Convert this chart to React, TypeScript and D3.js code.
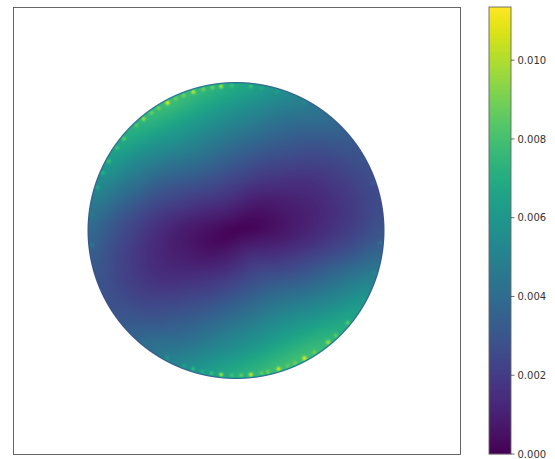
import React, { useMemo } from "react";
import * as d3 from "d3";

// Colour-bar ticks
const tickValues = [0, 0.002, 0.004, 0.006, 0.008, 0.01];
const vmax = 0.01135;

// Field: node values on polar mesh rings.
const ringRadii = [0, 0.2, 0.4, 0.6, 0.8, 0.97];
const sectorAngles = [0, 30, 60, 90, 120, 150, 180, 210, 240, 270, 300, 330];
const ring0 = [0.0001, 0.0001, 0.0001, 0.0001, 0.0001, 0.0001, 0.0001, 0.0001, 0.0001, 0.0001, 0.0001, 0.0001];
const ring1 = [0.0004, 0.0004, 0.0008, 0.0013, 0.0014, 0.001, 0.0005, 0.0004, 0.0008, 0.0013, 0.0015, 0.001];
const ring2 = [0.0009, 0.001, 0.0018, 0.0027, 0.0029, 0.0021, 0.001, 0.001, 0.0018, 0.0027, 0.003, 0.002];
const ring3 = [0.0015, 0.0015, 0.0028, 0.0041, 0.0046, 0.0033, 0.0018, 0.0015, 0.0028, 0.0042, 0.0047, 0.0033];
const ring4 = [0.0022, 0.0022, 0.0037, 0.0056, 0.0063, 0.0049, 0.0028, 0.0022, 0.0037, 0.0057, 0.0064, 0.0048];
const ring5 = [0.0029, 0.0028, 0.0046, 0.0068, 0.0077, 0.0062, 0.0038, 0.0028, 0.0046, 0.007, 0.0078, 0.006];
const rings = [ring0, ring1, ring2, ring3, ring4, ring5];

// Bright boundary nodes: angle in degrees (counter-clockwise from +x), value.
const hotAngles = [162.7, 156.6, 151.5, 145.2, 140.7, 133.5, 129.6, 125.6, 122.3, 118.2, 114.6, 111.2, 107.1, 103, 99.4, 95.9, 91.6,
  84.1, 79.8, 73.5, 62.1, 51.3, 29.7, 19.2, -4.9, -17, -28.2, -39.6, -46.5, -50.5, -57.2, -61.8, -66, -69.1, -72.9, -77.3, -79.8,
  -84.1, -88, -91.6, -95.9, -99.8, -103.4, -107.2, -111, -118.4, -129.1, -141.2, -151.5, -174.4, 173.9];
const hotValues = [0.0068, 0.0072, 0.0078, 0.0078, 0.0085, 0.0082, 0.0095, 0.0088, 0.0088, 0.0108, 0.0088, 0.0088, 0.0102, 0.0088, 0.0088, 0.0098, 0.0078,
  0.0078, 0.0068, 0.0065, 0.0052, 0.004, 0.0032, 0.0034, 0.0042, 0.0052, 0.0062, 0.0085, 0.0085, 0.0098, 0.0088, 0.0108, 0.0088, 0.0085, 0.0105, 0.0088, 0.0085,
  0.0104, 0.0085, 0.008, 0.0098, 0.0078, 0.0072, 0.0075, 0.0065, 0.0058, 0.0042, 0.003, 0.0027, 0.0044, 0.0048];

const W = 555;
const H = 459;
const cx = 236;
const cy = 230.5;
const R = 148.5;

const color = d3.scaleSequential(d3.interpolateViridis).domain([0, vmax]);
const radial = d3.scaleLinear().domain(ringRadii).range(ringRadii.map((_, i) => i));
const rimBlend = d3.scaleLinear().domain([R - 1.8, R - 0.2]).range([0, 0.85]).clamp(true);
const barY = d3.scaleLinear().domain([0, vmax]).range([454, 7]);

function cr(a: number, b: number, c: number, d: number, t: number) {
  return 0.5 * (2 * b + (c - a) * t + (2 * a - 5 * b + 4 * c - d) * t * t + (3 * b - a - 3 * c + d) * t * t * t);
}

function field(rn: number, deg: number) {
  const n = sectorAngles.length;
  const s = (((deg % 360) + 360) % 360) / 30;
  const i = Math.floor(s);
  const ts = s - i;
  const atRing = (k: number) => {
    const q = rings[Math.max(0, Math.min(rings.length - 1, k))];
    return cr(q[(i - 1 + n) % n], q[i % n], q[(i + 1) % n], q[(i + 2) % n], ts);
  };
  const rr = Math.min(radial(Math.min(rn, 0.97)), rings.length - 1);
  const j = Math.min(Math.floor(rr), rings.length - 2);
  return Math.max(0, cr(atRing(j - 1), atRing(j), atRing(j + 1), atRing(j + 2), rr - j));
}

function makeImage() {
  const size = Math.ceil(2 * R) + 4;
  const cv = document.createElement("canvas");
  cv.width = size;
  cv.height = size;
  const ctx = cv.getContext("2d");
  if (!ctx) return null;
  const img = ctx.createImageData(size, size);
  const x0 = Math.floor(cx - R) - 1;
  const y0 = Math.floor(cy - R) - 1;
  const hots = hotAngles.map((a, i) => ({
    x: cx + (R - 3.6) * Math.cos((a * Math.PI) / 180),
    y: cy - (R - 3.6) * Math.sin((a * Math.PI) / 180),
    v: hotValues[i],
  }));
  for (let py = 0; py < size; py++) {
    for (let px = 0; px < size; px++) {
      const X = x0 + px + 0.5;
      const Y = y0 + py + 0.5;
      const dx = X - cx;
      const dy = cy - Y;
      const d = Math.hypot(dx, dy);
      if (d > R + 1) continue;
      const deg = (Math.atan2(dy, dx) * 180) / Math.PI;
      const base = field(d / R, deg);
      let v = base;
      for (const h of hots) {
        const q = Math.hypot(X - h.x, Y - h.y);
        if (q < 6) v = Math.max(v, base + (h.v - base) * Math.exp(-(q * q) / 5));
      }
      v = v + (Math.min(0.0028, base) - v) * rimBlend(d);
      const c = d3.rgb(color(v));
      const o = (py * size + px) * 4;
      img.data[o] = c.r;
      img.data[o + 1] = c.g;
      img.data[o + 2] = c.b;
      img.data[o + 3] = 255 * Math.max(0, Math.min(1, R + 0.5 - d));
    }
  }
  ctx.putImageData(img, 0, 0);
  return { href: cv.toDataURL(), x: x0, y: y0, size };
}

export default function App() {
  const im = useMemo(makeImage, []) as any;
  const barCells = d3.range(7, 454).map((y) => ({ y, v: barY.invert(y + 0.5) }));
  return (
    <svg
      width={W}
      height={H}
      style={{ position: "absolute", left: 0, top: 0, background: "#fff", fontFamily: "'DejaVu Sans'" }}
    >
      <rect x={13.5} y={7.5} width={447} height={447} fill="none" stroke="#555" strokeWidth={0.9} />
      {im && <image href={im.href} x={im.x} y={im.y} width={im.size} height={im.size} />}
      {barCells.map((c) => (
        <rect key={c.y} x={489} y={c.y} width={22} height={1.2} fill={color(c.v)} />
      ))}
      <rect x={489} y={7} width={22} height={447} fill="none" stroke="#666" strokeWidth={0.9} />
      {tickValues.map((t) => (
        <g key={t} transform={`translate(511,${barY(t)})`}>
          <line x1={0} x2={3.5} stroke="#444" strokeWidth={0.8} />
          <text x={6.5} y={3.6} fontSize={10} fill="#333">
            {d3.format(".3f")(t)}
          </text>
        </g>
      ))}
    </svg>
  );
}
